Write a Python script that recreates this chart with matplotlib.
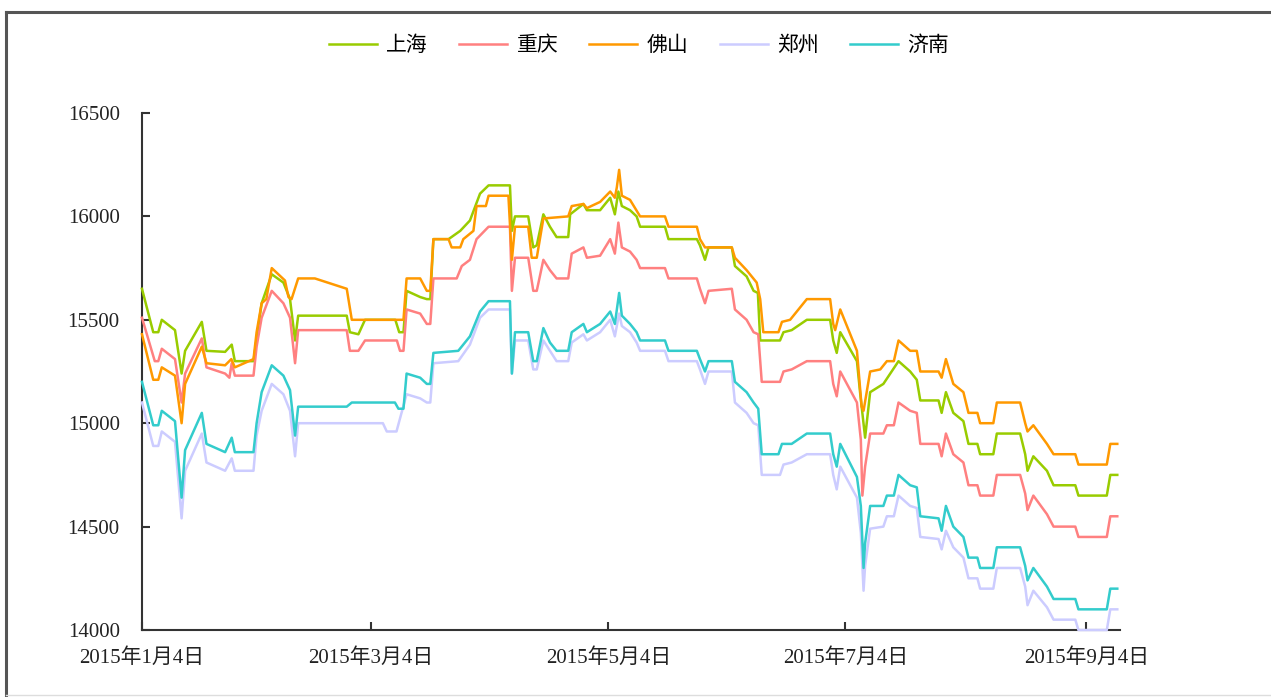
import matplotlib
matplotlib.use('Agg')
import matplotlib.pyplot as plt
import matplotlib.dates as mdates
from matplotlib.lines import Line2D
from matplotlib.ticker import FuncFormatter
import pandas as pd

START = pd.Timestamp('2015-01-04')

# days after 2015-01-04, price
sh_days = [0, 2.9, 4.2, 5.1, 8.5, 10.2, 11.1, 15.4, 16.6, 21.4, 23.1, 23.9, 28.7, 30.8, 33.4, 36.4,
           38.1, 39.4, 40.2, 52.7, 53.5, 55.7, 57.4, 65.2, 66.2, 67.3, 68.1, 71.6, 73.3, 74.2, 75.0,
           78.9, 81.9, 84.4, 87.0, 89.2, 94.7, 95.2, 96.0, 99.4, 100.7, 101.6, 103.3, 105.0, 106.7,
           109.7, 110.2, 113.6, 114.5, 117.9, 120.5, 121.7, 122.6, 123.5, 125.6, 127.3, 128.2, 134.6,
           135.5, 142.8, 143.6, 144.9, 145.8, 151.8, 152.6, 155.6, 157.4, 158.5, 159.1, 164.2, 165.1,
           167.2, 171.1, 177.1, 177.9, 178.8, 179.7, 184.0, 184.8, 186.1, 187.4, 190.8, 194.7, 197.7,
           199.4, 200.3, 205.0, 205.8, 206.9, 208.8, 211.4, 212.7, 215.0, 215.7, 219.1, 220.0, 226.0,
           227.3, 227.9, 229.4, 232.9, 234.6, 240.2, 241.0, 248.3, 249.2, 251.0]
sh_vals = [15650, 15440, 15440, 15500, 15450, 15240, 15350, 15490, 15350, 15345, 15380, 15300, 15300,
           15580, 15720, 15680, 15600, 15400, 15520, 15520, 15440, 15430, 15500, 15500, 15440, 15440,
           15640, 15610, 15600, 15600, 15890, 15890, 15930, 15980, 16110, 16150, 16150, 15930, 16000,
           16000, 15850, 15860, 16010, 15950, 15900, 15900, 16010, 16060, 16030, 16030, 16090, 16010,
           16120, 16050, 16030, 16000, 15950, 15950, 15890, 15890, 15860, 15790, 15850, 15850, 15760,
           15710, 15640, 15630, 15400, 15400, 15440, 15450, 15500, 15500, 15400, 15340, 15440, 15300,
           15150, 14930, 15150, 15190, 15300, 15250, 15210, 15110, 15110, 15050, 15150, 15050, 15010,
           14900, 14900, 14850, 14850, 14950, 14950, 14850, 14770, 14840, 14770, 14700, 14700, 14650,
           14650, 14750, 14750]

cq_days = [0, 3.3, 4.2, 5.1, 8.5, 10.2, 11.1, 15.4, 16.6, 21.4, 22.5, 23.1, 23.9, 28.7, 29.5, 30.8,
           33.4, 36.4, 38.1, 39.4, 40.2, 52.7, 53.5, 55.7, 57.4, 65.6, 66.4, 67.3, 68.1, 71.6, 73.3,
           74.2, 75.0, 81.0, 82.3, 84.4, 86.1, 89.2, 94.7, 95.2, 96.0, 99.4, 100.7, 101.6, 103.3, 105.0,
           106.7, 109.7, 110.6, 113.6, 114.5, 117.9, 120.5, 121.7, 122.6, 123.5, 125.6, 127.3, 128.2,
           134.6, 135.5, 142.8, 143.6, 144.9, 145.8, 151.8, 152.6, 155.6, 157.4, 158.6, 159.5, 164.2,
           165.1, 167.2, 171.1, 177.1, 177.9, 178.8, 179.7, 184.0, 185.0, 185.4, 186.1, 187.4, 190.8,
           191.7, 193.5, 194.7, 197.7, 199.4, 200.3, 205.0, 205.8, 206.9, 208.8, 211.4, 212.7, 215.0,
           215.7, 219.1, 220.0, 226.0, 227.3, 227.9, 229.4, 232.9, 234.6, 240.2, 241.0, 248.3, 249.2,
           251.0]
cq_vals = [15510, 15300, 15300, 15360, 15310, 15100, 15240, 15410, 15270, 15240, 15220, 15290, 15230,
           15230, 15370, 15510, 15640, 15580, 15510, 15290, 15450, 15450, 15350, 15350, 15400, 15400,
           15350, 15350, 15550, 15530, 15480, 15480, 15700, 15700, 15760, 15790, 15890, 15950, 15950,
           15640, 15800, 15800, 15640, 15640, 15790, 15740, 15700, 15700, 15820, 15850, 15800, 15810,
           15890, 15820, 15970, 15850, 15830, 15790, 15750, 15750, 15700, 15700, 15650, 15580, 15640,
           15650, 15550, 15500, 15440, 15430, 15200, 15200, 15250, 15260, 15300, 15300, 15190, 15130,
           15250, 15100, 14920, 14650, 14790, 14950, 14950, 14990, 14990, 15100, 15060, 15050, 14900,
           14900, 14840, 14950, 14850, 14810, 14700, 14700, 14650, 14650, 14750, 14750, 14660, 14580,
           14650, 14560, 14500, 14500, 14450, 14450, 14550, 14550]

fs_days = [0, 2.9, 4.2, 5.1, 8.5, 10.2, 11.1, 15.4, 16.6, 21.4, 23.0, 23.9, 28.7, 29.5, 30.8, 32.0,
           33.4, 36.8, 37.7, 38.5, 40.2, 44.5, 52.7, 54.0, 67.3, 68.1, 71.6, 73.3, 74.2, 75.0, 78.9,
           79.7, 81.9, 82.7, 85.3, 86.1, 88.5, 89.2, 94.3, 95.2, 96.0, 99.4, 100.3, 101.6, 103.3,
           109.7, 110.6, 113.6, 114.5, 117.9, 120.5, 121.7, 122.2, 122.8, 123.5, 125.6, 128.2, 134.6,
           135.5, 142.8, 143.6, 144.9, 151.8, 152.6, 155.6, 158.2, 159.1, 159.9, 163.8, 164.7, 166.8,
           171.1, 177.1, 177.9, 178.4, 179.7, 184.0, 185.2, 185.7, 187.4, 190.0, 191.7, 193.5, 194.7,
           197.7, 199.4, 200.3, 205.0, 205.8, 206.9, 208.8, 211.4, 212.7, 215.0, 215.7, 219.1, 220.0,
           226.0, 227.3, 227.9, 229.4, 232.9, 234.6, 240.2, 241.0, 248.3, 249.2, 251.0]
fs_vals = [15430, 15210, 15210, 15270, 15230, 15000, 15190, 15370, 15290, 15280, 15310, 15270, 15310,
           15440, 15580, 15600, 15750, 15690, 15610, 15600, 15700, 15700, 15650, 15500, 15500, 15700,
           15700, 15640, 15640, 15890, 15890, 15850, 15850, 15890, 15930, 16050, 16050, 16100, 16100,
           15790, 15950, 15950, 15800, 15800, 15990, 16000, 16050, 16060, 16040, 16070, 16120, 16090,
           16140, 16225, 16100, 16080, 16000, 16000, 15950, 15950, 15890, 15850, 15850, 15800, 15740,
           15680, 15600, 15440, 15440, 15490, 15500, 15600, 15600, 15480, 15450, 15550, 15350, 15080,
           15060, 15250, 15260, 15300, 15300, 15400, 15350, 15350, 15250, 15250, 15220, 15310, 15190,
           15150, 15050, 15050, 15000, 15000, 15100, 15100, 15000, 14960, 14990, 14900, 14850, 14850,
           14800, 14800, 14900, 14900]

zz_days = [0, 2.9, 4.2, 5.1, 8.5, 10.2, 11.1, 15.4, 16.6, 21.4, 23.1, 23.9, 28.7, 29.5, 30.8, 33.4,
           36.4, 38.1, 39.4, 40.2, 62.0, 63.0, 65.5, 68.1, 71.6, 73.3, 74.2, 75.0, 81.4, 84.4, 87.0,
           89.2, 94.7, 95.2, 96.0, 99.4, 100.7, 101.6, 103.3, 105.0, 106.7, 109.7, 110.6, 113.6, 114.5,
           117.9, 120.5, 121.7, 122.8, 123.5, 125.6, 127.3, 128.2, 134.6, 135.5, 142.8, 143.6, 144.9,
           145.8, 151.8, 152.6, 155.6, 157.4, 158.6, 159.5, 164.2, 165.1, 167.2, 171.1, 177.1, 177.9,
           178.8, 179.7, 184.0, 185.0, 185.7, 186.1, 187.4, 190.8, 191.7, 193.5, 194.7, 197.7, 199.4,
           200.3, 205.0, 205.8, 206.9, 208.8, 211.4, 212.7, 215.0, 215.7, 219.1, 220.0, 226.0, 227.3,
           227.9, 229.4, 232.9, 234.6, 240.2, 241.0, 248.3, 249.2, 251.0]
zz_vals = [15100, 14890, 14890, 14960, 14910, 14540, 14770, 14950, 14810, 14770, 14830, 14770, 14770,
           14940, 15060, 15190, 15140, 15060, 14840, 15000, 15000, 14960, 14960, 15140, 15120, 15100,
           15100, 15290, 15300, 15380, 15510, 15550, 15550, 15240, 15400, 15400, 15260, 15260, 15400,
           15350, 15300, 15300, 15390, 15430, 15400, 15440, 15500, 15420, 15530, 15470, 15440, 15390,
           15350, 15350, 15300, 15300, 15260, 15190, 15250, 15250, 15100, 15050, 15000, 14990, 14750,
           14750, 14800, 14810, 14850, 14850, 14750, 14680, 14790, 14640, 14470, 14190, 14310, 14490,
           14500, 14550, 14550, 14650, 14600, 14590, 14450, 14440, 14390, 14480, 14400, 14350, 14250,
           14250, 14200, 14200, 14300, 14300, 14210, 14120, 14190, 14110, 14050, 14050, 14000, 14000,
           14100, 14100]

jn_days = [0, 2.9, 4.2, 5.1, 8.5, 10.2, 11.1, 15.4, 16.6, 21.4, 23.1, 23.9, 28.7, 29.5, 30.8, 33.4,
           36.4, 38.1, 39.4, 40.2, 52.7, 54.0, 65.1, 66.0, 67.3, 68.1, 71.6, 73.3, 74.2, 75.0, 81.4,
           84.4, 87.0, 89.2, 94.7, 95.2, 96.0, 99.4, 100.7, 101.6, 103.3, 105.0, 106.7, 109.7, 110.6,
           113.6, 114.5, 117.9, 120.5, 121.7, 122.8, 123.5, 125.6, 127.3, 128.2, 134.6, 135.5, 142.8,
           143.6, 144.9, 145.8, 151.8, 152.6, 155.6, 157.4, 158.6, 159.5, 163.8, 164.7, 167.2, 171.1,
           177.1, 177.9, 178.8, 179.7, 184.0, 185.0, 185.7, 186.1, 187.4, 190.8, 191.7, 193.5, 194.7,
           197.7, 199.4, 200.3, 205.0, 205.8, 206.9, 208.8, 211.4, 212.7, 215.0, 215.7, 219.1, 220.0,
           226.0, 227.3, 227.9, 229.4, 232.9, 234.6, 240.2, 241.0, 248.3, 249.2, 251.0]
jn_vals = [15200, 14990, 14990, 15060, 15010, 14640, 14870, 15050, 14900, 14860, 14930, 14860, 14860,
           15000, 15150, 15280, 15230, 15160, 14940, 15080, 15080, 15100, 15100, 15070, 15070, 15240,
           15220, 15190, 15190, 15340, 15350, 15420, 15540, 15590, 15590, 15240, 15440, 15440, 15300,
           15300, 15460, 15390, 15350, 15350, 15440, 15480, 15440, 15480, 15540, 15480, 15630, 15520,
           15480, 15440, 15400, 15400, 15350, 15350, 15310, 15250, 15300, 15300, 15200, 15150, 15100,
           15070, 14850, 14850, 14900, 14900, 14950, 14950, 14850, 14790, 14900, 14740, 14600, 14300,
           14420, 14600, 14600, 14650, 14650, 14750, 14700, 14690, 14550, 14540, 14480, 14600, 14500,
           14450, 14350, 14350, 14300, 14300, 14400, 14400, 14310, 14240, 14300, 14210, 14150, 14150,
           14100, 14100, 14200, 14200]

names = ['上海', '重庆', '佛山', '郑州', '济南']
series = [(sh_days, sh_vals), (cq_days, cq_vals), (fs_days, fs_vals), (zz_days, zz_vals), (jn_days, jn_vals)]
colors = ['#99CC00', '#FF8080', '#FF9900', '#CCCCFF', '#33CCCC']

plt.rcParams['font.family'] = ['Liberation Serif', 'Noto Sans CJK SC', 'DejaVu Sans']

fig = plt.figure(figsize=(12.71, 6.97), dpi=100)
ax = fig.add_axes([0.1117, 0.0961, 0.7695, 0.7418])

for name, (d, v), c in zip(names, series, colors):
    x = START + pd.to_timedelta(d, unit='D')
    ax.plot(x, v, color=c, lw=1.8, label=name, zorder=3, clip_on=False)

ax.set_ylim(14000, 16500)
ax.set_yticks([14000, 14500, 15000, 15500, 16000, 16500])
ax.set_xlim(START, START + pd.Timedelta(days=251.7))
ax.xaxis.set_major_locator(mdates.MonthLocator(bymonth=[1, 3, 5, 7, 9], bymonthday=4))
ax.xaxis.set_major_formatter(FuncFormatter(
    lambda v, p: (lambda d: f'{d.year}年{d.month}月{d.day}日')(mdates.num2date(v))))

for s in ['top', 'right']:
    ax.spines[s].set_visible(False)
for s in ['left', 'bottom']:
    ax.spines[s].set_color('#333333')
    ax.spines[s].set_linewidth(1.5)
ax.tick_params(axis='both', direction='in', length=6, width=1.5, color='#333333',
               labelsize=15, labelcolor='#222222')
ax.tick_params(axis='y', pad=16)
ax.tick_params(axis='x', pad=13)

fig.legend(loc='center', bbox_to_anchor=(639 / 1271, 1 - 45 / 697), ncol=5, frameon=False,
           prop={'family': ['Noto Sans CJK SC'], 'size': 15}, handlelength=2.3,
           handletextpad=0.45, columnspacing=1.5)

# outer frame
fig.add_artist(Line2D([6 / 1271, 1], [1 - 12 / 697, 1 - 12 / 697], color='#555555', lw=2.2))
fig.add_artist(Line2D([6 / 1271, 6 / 1271], [1 - 12 / 697, 1 - 695 / 697], color='#555555', lw=2.2))
fig.add_artist(Line2D([6 / 1271, 1], [1 - 695 / 697, 1 - 695 / 697], color='#dddddd', lw=1))

fig.savefig('out.png', dpi=100)
